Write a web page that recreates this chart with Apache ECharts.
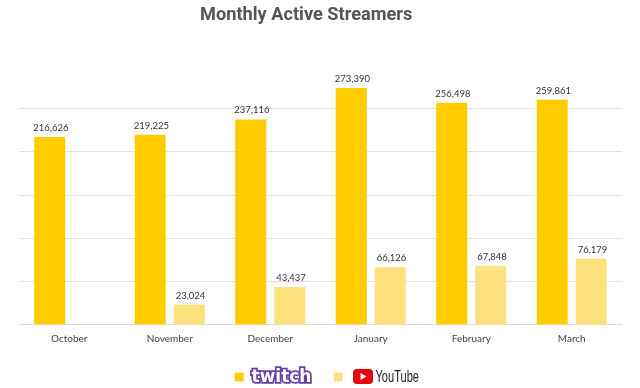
<!DOCTYPE html>
<html><head><meta charset="utf-8">
<style>html,body{margin:0;padding:0;background:#fff}#c{width:640px;height:388px}</style>
<script src="https://cdn.jsdelivr.net/npm/echarts@6/dist/echarts.min.js"></script>
</head><body><div id="c"></div>
<script>
const categories = ['October','November','December','January','February','March'];
const twitch = [216626,219225,237116,273390,256498,259861];
const youtube = [null,23024,43437,66126,67848,76179];
const titleText = 'Monthly Active Streamers';
const chart = echarts.init(document.getElementById('c'), null, {renderer:'canvas'});
const labelFmt = p => p.value == null ? '' : p.value.toLocaleString('en-US');
const lab = {show:true, position:'top', distance:4, offset:[1.2,0], color:'#333', fontFamily:'Lato', fontSize:9.5, formatter:labelFmt};
const legendBase = {top:372.5, padding:0, itemWidth:9, itemHeight:9, icon:'rect', formatter:() => ' ', textStyle:{fontSize:8}};
chart.setOption({
  animation:false,
  backgroundColor:'#fff',
  title:{text:titleText, left:195, top:1, textStyle:{fontFamily:'Roboto', fontWeight:'bold', fontSize:18.2, color:'#555'}},
  grid:{left:19, right:18, top:65, bottom:63.5, containLabel:false},
  legend:[
    Object.assign({left:234.7, data:['twitch']}, legendBase),
    Object.assign({left:333.7, data:['YouTube']}, legendBase)
  ],
  graphic:[
    {type:'text', x:251.5, y:369, silent:true, style:{
      text:'twitch', fontFamily:'DejaVu Sans', fontWeight:'bold', fontSize:17,
      fill:'#fff', stroke:'#6441a4', lineWidth:3.5,
      shadowColor:'#6441a4', shadowOffsetY:2, shadowBlur:0}},
    {type:'rect', shape:{x:353, y:369, width:20, height:15, r:4}, style:{fill:'#e60012'}, silent:true},
    {type:'polygon', shape:{points:[[360.5,373],[360.5,380],[366.5,376.5]]}, style:{fill:'#fff'}, silent:true},
    {type:'text', x:375.5, y:368.5, scaleX:0.67, silent:true, style:{
      text:'YouTube', fontFamily:'Liberation Sans', fontSize:16.5, fill:'#222'}}
  ],
  xAxis:{type:'category', data:categories, axisTick:{show:false},
    axisLine:{lineStyle:{color:'#dcdcdc', width:1}},
    axisLabel:{color:'#444', fontFamily:'Lato', fontSize:10, margin:9}},
  yAxis:{type:'value', min:0, max:300000, interval:50000,
    axisLine:{show:false}, axisTick:{show:false}, axisLabel:{show:false},
    splitLine:{showMaxLine:false, lineStyle:{color:'#e2e2e2', width:1}}},
  series:[
    {name:'twitch', type:'bar', data:twitch, barWidth:31, barGap:'26%', itemStyle:{color:'#ffcc00'}, label:lab},
    {name:'YouTube', type:'bar', data:youtube, barWidth:31, itemStyle:{color:'#fee17f'}, label:lab}
  ]
});
</script></body></html>
